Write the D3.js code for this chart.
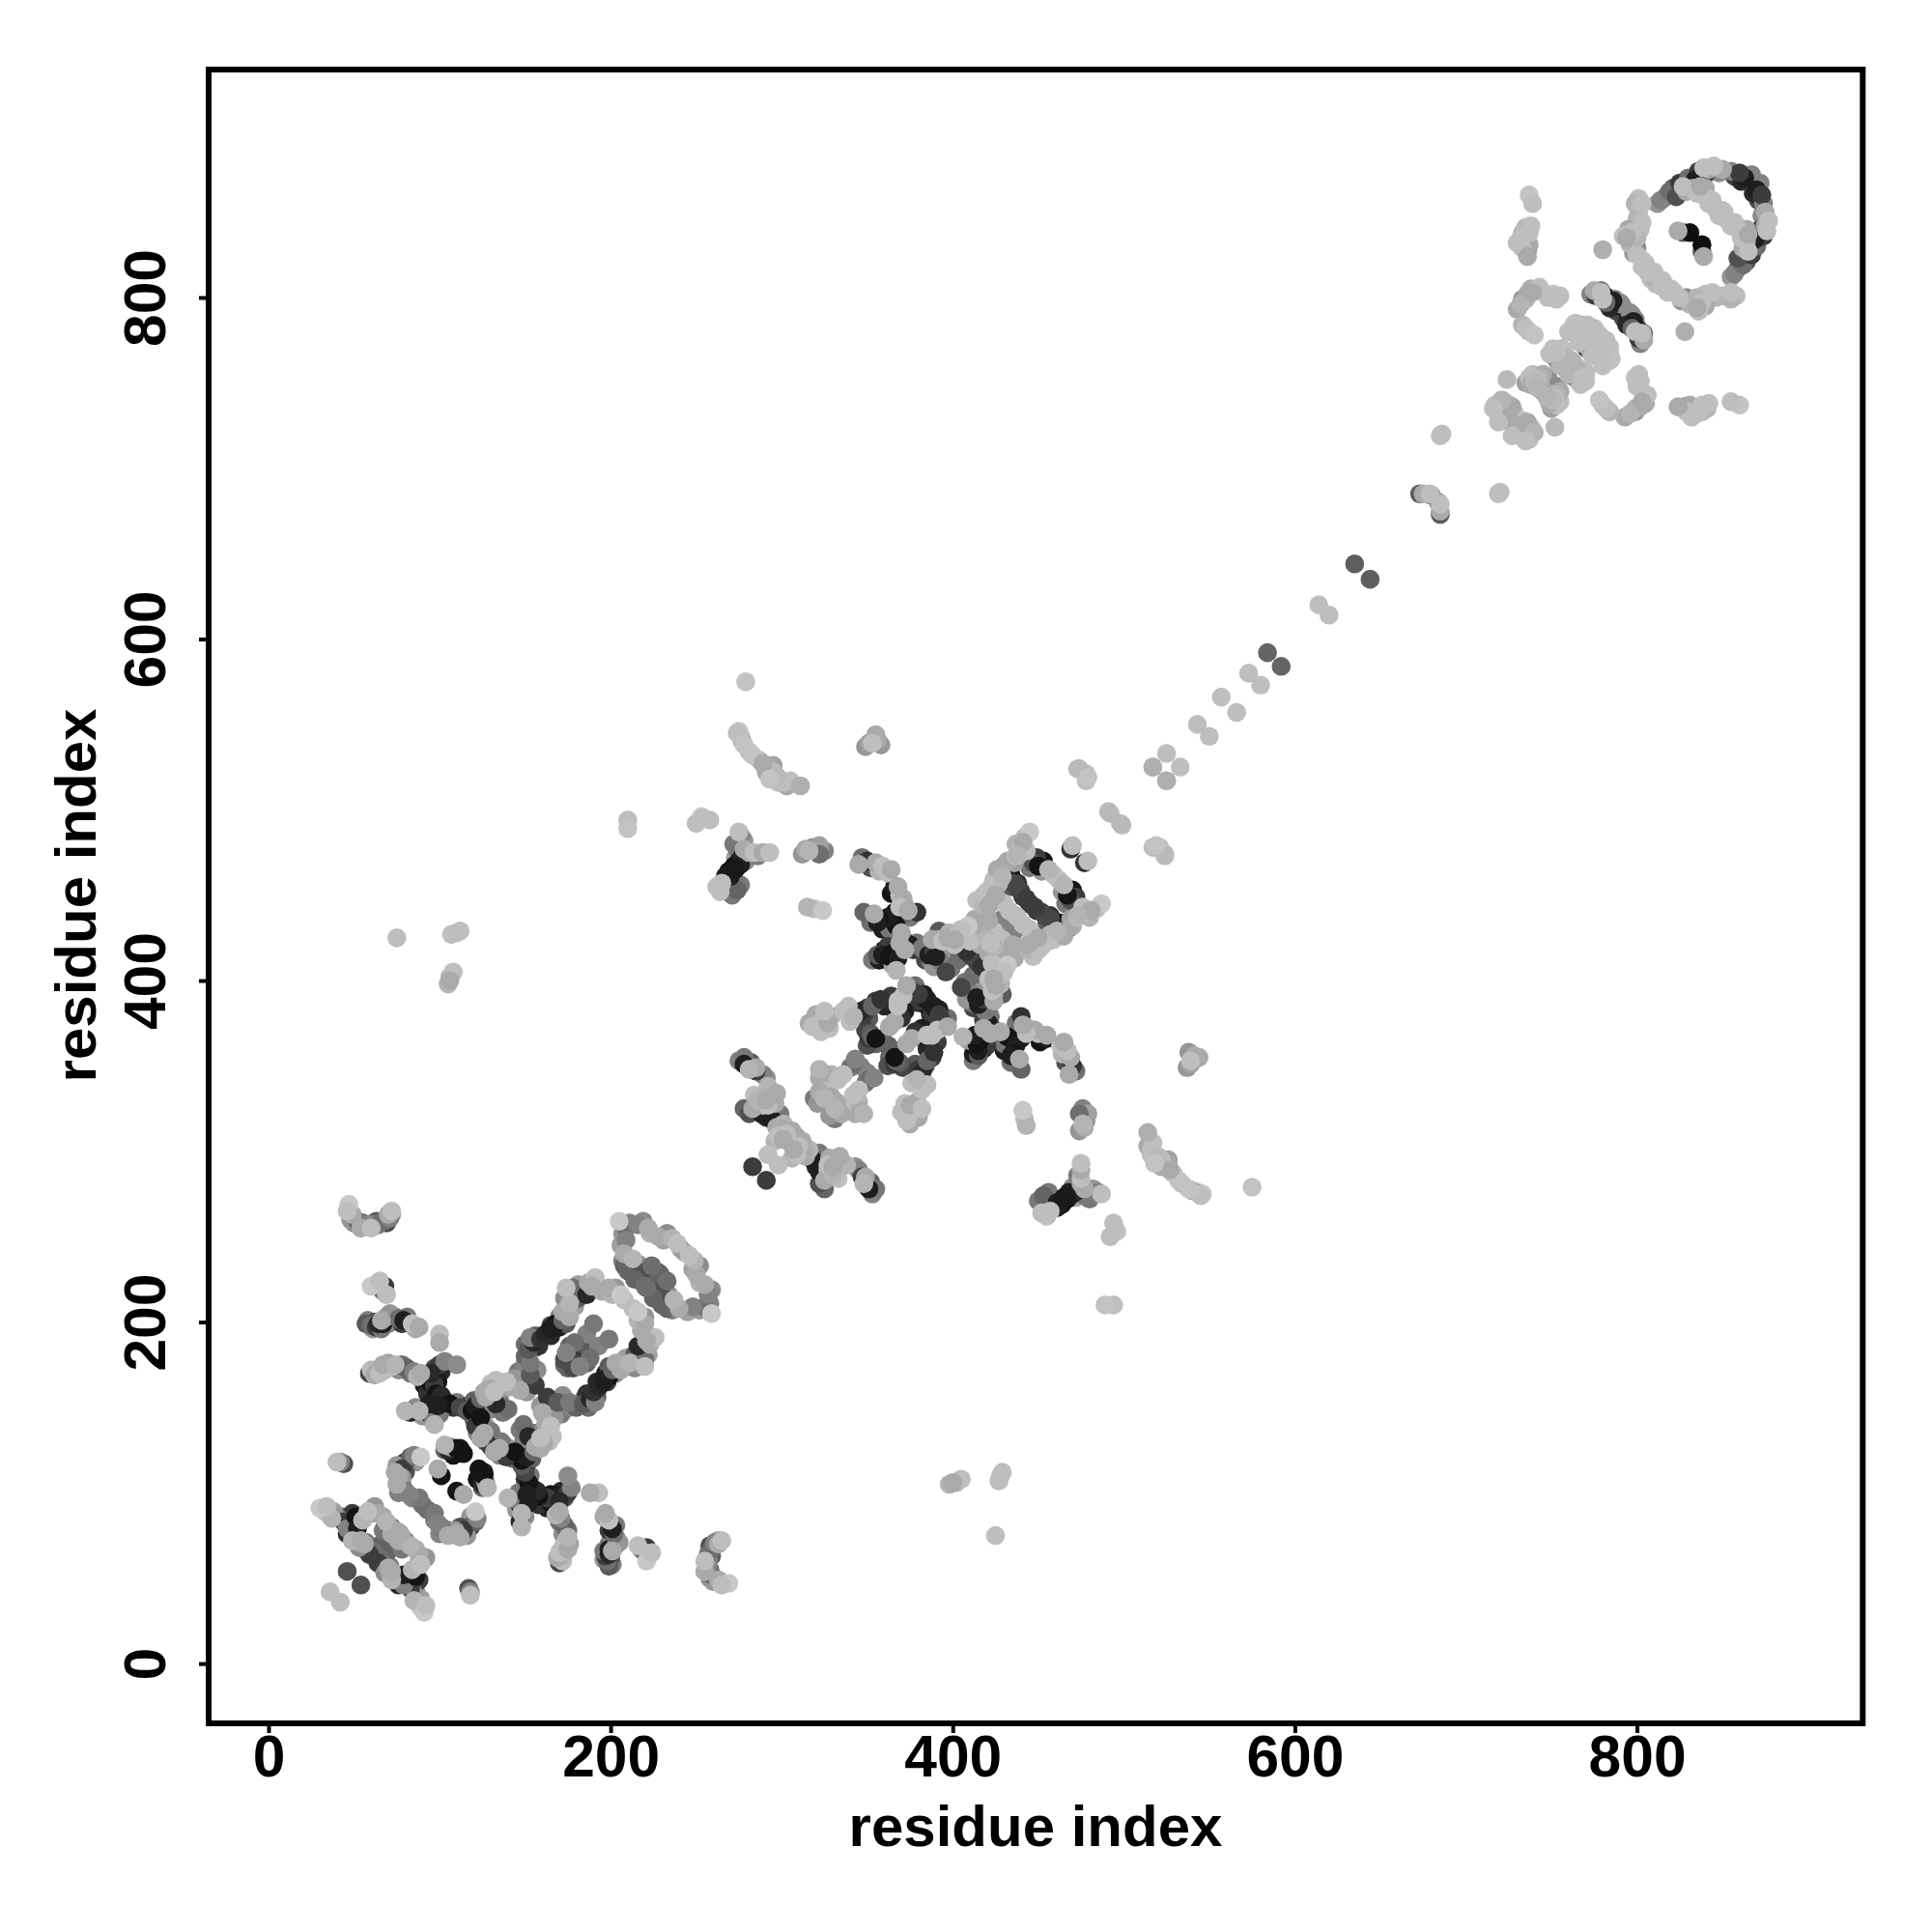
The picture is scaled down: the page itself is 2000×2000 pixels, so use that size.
<!DOCTYPE html>
<html><head><meta charset="utf-8">
<script src="https://cdn.jsdelivr.net/npm/d3@7/dist/d3.min.js"></script>
<style>html,body{margin:0;background:#fff}svg{display:block}text{font-family:"Liberation Sans",Arial,sans-serif;font-weight:700;fill:#000}</style>
</head><body><svg id="c" width="2000" height="2000"></svg>
<script>
// each row: residue i, residue j, grey level of the contact; the map is symmetric
const tickValues=[0,200,400,600,800];
const axisTitle="residue index";
const domainN1Under=[
[49,263,170],[55,258,90],[59,256,150],[63,259,90],[69,260,60],[70,263,170],[50,258,140],[54,255,170],[69,258,80],[72,263,150],
[63,222,120],[67,218,130],[68,221,60],
[58,201,130],[61,196,150],[62,200,80],[65,198,40],[68,200,100],[70,199,130],[72,201,140],[74,203,130],[78,199,60],[81,203,120],[86,196,170],
[60,172,190],[63,172,180],[68,172,180],[72,174,190],[76,172,140],[79,174,90],[83,170,110],[87,168,180],
[91,163,30],[92,167,70],[95,160,40],[93,158,50],[97,173,80],[101,171,40],[99,165,20],[92,150,40],[98,153,20],[103,154,30],[108,150,50],[110,153,120],[90,145,150],[86,150,140],[94,144,150],[100,146,120],
[117,151,30],[120,154,100],[122,147,40],[125,150,120],[127,156,170],[130,164,190],[134,159,140],[133,166,190],[141,162,170],[146,171,120],[148,165,140],[150,163,160],[147,160,170],[128,152,150],[130,149,130],[135,155,120],[137,147,120],[120,143,100],[123,141,140],[127,139,150],[124,132,170],[130,136,120],[122,135,130],
[150,176,130],[150,180,100],[152,188,90],[156,185,110],[150,187,110],[156,192,100],[158,186,50],[160,192,80],[165,192,40],[165,198,60],[170,197,30],[170,203,130],[174,199,90],[172,206,170],[176,203,170],[176,211,180],[179,209,160],[173,214,140],[177,218,100],[181,214,90],[184,219,130],[187,223,170],[192,221,150],[195,218,170],[201,216,180],[181,222,160],[208,213,190],[203,220,150],[157,172,140],[152,172,130],
[207,252,150],[211,258,130],[219,259,140],[223,252,180],[228,250,170],[236,249,180],[231,248,160],[241,243,160],[206,245,160],[207,236,130],[210,230,100],[216,234,140],[217,226,90],[221,230,150],[222,224,100],[228,229,100],
[176,186,100],[183,185,90],[173,175,100],[181,176,80],[177,180,60],[186,193,130],
[86,118,150],[80,118,60],[75,116,150],[80,112,80],[74,112,170],[76,100,130],[84,97,130],[78,106,130],[90,93,110],
[33,89,190],[37,85,180],[43,86,130],[47,86,30],[49,83,40],[50,75,60],[48,78,150],[52,74,100],[53,71,170],[57,71,120],[59,64,90],[62,62,150],[67,56,160],[65,63,120],[70,56,170],
[53,83,60],[49,88,60],[60,88,170],[64,88,170],[67,86,170],[72,80,120],[74,78,160],[72,76,170],[70,72,120],[66,70,100],
[103,125,100],[108,122,20],[112,126,30],[105,125,40]
];
const domainN1=[
[47,269,200],[46,265,190],[48,260,150],[52,259,110],[66,258,60],[57,257,130],[61,257,140],[64,257,120],[67,259,110],[71,261,130],[60,255,190],[72,265,190],
[60,221,200],[65,224,190],[66,222,50],[65,220,100],[69,216,190],
[57,199,90],[60,198,110],[63,197,60],[66,196,120],[64,199,40],[66,201,170],[67,199,30],[69,203,160],[71,205,150],[76,202,110],[79,201,30],[84,199,190],[88,197,170],
[100,193,190],[100,188,170],
[59,170,70],[62,169,170],[65,170,190],[67,175,170],[70,176,160],[74,175,180],[78,175,110],[81,173,100],[85,171,130],[89,170,170],
[94,165,20],[96,167,15],[98,170,30],[100,175,60],[103,177,130],[110,175,140],[97,163,60],[95,170,40],[98,158,20],[101,157,40],[106,152,20],[112,150,70],[116,148,90],
[95,148,15],[93,147,30],[88,148,180],[83,147,40],[80,148,180],[96,144,120],[97,140,180],[99,151,30],[94,152,30],
[119,148,20],[121,151,30],[124,155,100],[126,159,170],[129,161,170],[135,163,50],[132,159,190],[139,165,190],[144,167,150],[137,161,140],[151,159,150],[156,163,60],[140,149,110],
[121,139,60],[124,144,20],[126,135,170],[127,130,60],[133,152,40],[153,169,90],
[153,176,120],[152,184,90],[155,188,40],[153,191,130],[159,190,50],[162,193,40],[168,199,20],[165,196,30],[172,201,100],[175,207,150],[178,216,130],[174,220,190],[178,220,110],[186,216,40],[191,226,190],[189,221,170],[199,220,170],[206,216,200],
[190,199,120],[179,188,110],[175,178,70],[178,173,75],[174,182,130],
[205,259,200],[209,255,110],[209,248,130],[216,257,130],[222,255,170],[233,252,140],[239,246,190],[208,240,170],[208,233,100],[213,237,180],[218,229,80],[224,233,110],[214,225,100],[220,221,110],
[103,128,180],[106,127,150],[110,126,20],[114,123,20],[101,110,20],[99,114,170],
[89,121,200],[83,121,100],[78,114,60],[78,109,150],[80,101,120],[88,97,120],[82,99,130],[75,105,170],[76,110,170],[85,122,130],
[30,91,200],[34,92,190],[38,89,160],[41,85,150],[44,83,60],[46,76,40],[46,79,130],[49,72,180],[55,69,70],[61,66,110],[64,59,60],[68,53,140],[72,54,170],
[51,86,20],[52,79,30],[55,84,180],[62,92,150],[58,89,190],[69,83,180],[70,80,160],[77,76,170],[74,75,150],[67,78,120],
[46,54,80],[36,42,190],[40,118,190],[44,117,80],[42,118,130]
];
const domainN2Under=[
[276,543,190],[277,540,170],[281,534,190],[287,529,190],[291,522,170],[298,516,190],[303,514,170],[305,517,190],[295,526,160],
[349,537,150],[358,538,150],[354,541,120],
[270,458,30],[268,458,120],[264,452,190],[271,450,120],[276,456,120],[273,472,160],[279,470,140],[272,480,120],[278,482,150],[281,475,170],[286,473,120],
[312,474,150],[318,478,150],[320,476,120],[325,476,130],
[345,468,170],[352,466,80],[357,464,180],[362,463,190],
[369,450,190],[364,451,20],[372,444,170],[375,437,120],[366,440,20],[361,433,30],[359,430,30],[352,434,110],[363,430,120],[370,428,170],[363,436,20],[366,428,120],
[353,412,120],[357,412,30],[362,412,20],[360,418,20],[362,420,60],[372,423,40],[377,418,60],[379,422,120],[385,417,70],[367,406,180],[372,418,170],
[384,412,70],[387,411,120],[391,417,60],[392,424,170],[388,424,170],[395,419,150],[398,428,180],[401,421,190],[406,425,180],[412,430,190],[389,408,150],[393,411,130],[399,407,120],[403,412,110],[411,414,70],[406,421,60],
[414,429,150],[418,428,170],[427,431,160],[420,437,190],[413,436,170],[425,424,190],[416,421,170],[410,423,190],
[414,447,190],[420,452,190],[418,444,180],[424,459,190],[427,457,180],[426,465,170],[430,467,40],[428,462,20],[434,462,30],[432,470,170],[437,473,190],[437,480,180],[443,476,190],[442,484,190],[434,455,90],[438,457,50],[440,452,70],[445,445,60],[421,447,180],[427,447,170],[430,445,190],[433,441,190],[437,438,190],
[445,466,120],[452,464,150],[459,462,190],[453,470,20],[449,472,60],
[322,376,190],[329,379,170],[316,375,170],[320,380,170],[323,370,190],[328,372,190],
[336,382,190],[340,376,190],[345,378,60],[350,384,60],[355,388,60],[351,378,90],[349,371,70],[356,364,90],[362,362,90],[363,355,100],[362,350,80],[351,366,60],[360,385,40],[364,391,60],[371,391,190],[378,397,110],[385,389,40],[380,387,40],[384,386,30],[391,383,20],[388,380,60],[372,382,30],[367,380,30],[366,376,170],[363,373,170],
[340,349,120],[346,350,130],[322,343,170],[328,341,190],[336,345,190],[329,345,180],[322,335,170],[329,332,170],[319,331,120],
[275,353,130],[282,352,90],[285,349,170],[291,343,140],
[284,333,190],[289,327,180],[293,328,180],[283,325,170],[278,325,100],[291,320,40],[293,323,160],[297,314,170],[301,316,180],[306,312,170],[296,306,180],[306,304,160],[309,308,150],[311,304,120],
[292,338,180],[296,328,170],[292,327,190],[299,322,120],[297,334,170]
];
const domainN2=[
[279,575,195],[275,546,200],[274,545,190],[278,538,195],[283,532,195],[292,526,170],[295,522,190],[301,516,190],[311,514,175],[289,527,170],[297,520,185],[293,518,195],
[351,539,160],[356,541,170],[355,544,170],[353,539,190],[253,496,200],[258,494,190],[250,492,190],[254,495,190],
[275,487,190],[276,485,130],[274,477,120],[278,477,170],[284,475,190],[289,475,170],[293,475,190],
[269,464,20],[272,467,20],[275,470,25],[277,473,40],[267,461,30],[274,453,100],[262,455,190],[265,457,190],[270,461,30],[276,468,30],[273,465,25],
[314,477,170],[322,479,160],[322,474,110],[316,476,180],[319,442,190],[315,443,180],[324,441,200],
[347,472,110],[350,470,50],[355,469,170],[359,467,190],[364,465,170],
[368,455,170],[366,455,30],[371,448,170],[369,443,190],[379,440,50],[374,441,170],[371,439,100],[365,435,20],[367,432,20],[362,437,30],[357,436,20],[354,439,170],[348,440,100],[356,434,30],
[356,415,90],[359,415,30],[365,416,20],[365,409,160],[369,422,170],[363,414,20],[375,421,30],[382,419,120],[368,413,30],
[386,415,30],[389,418,60],[392,429,90],[394,423,190],[390,414,30],[397,425,170],[403,427,190],[409,432,200],[405,430,190],[401,424,170],
[408,417,50],[396,405,70],[417,432,130],[429,436,130],[424,429,190],[420,424,180],[422,422,190],[421,435,170],
[418,450,190],[423,456,190],[421,444,170],[429,461,180],[433,465,20],[431,463,30],[436,469,160],[440,478,190],[445,487,200],[441,481,170],[438,473,180],[436,457,70],[441,449,60],[438,454,70],[443,448,60],[425,450,170],
[447,469,80],[450,467,20],[456,465,180],[470,479,190],[469,477,50],
[473,524,190],[478,521,190],[478,518,190],[491,499,190],[498,492,185],[517,478,190],[524,474,185],[519,479,195],[517,525,185],[525,533,190],[525,517,175],
[325,378,170],[321,374,190],[318,373,190],[327,375,170],[325,382,190],
[339,385,190],[342,379,180],[348,380,60],[346,382,40],[353,385,100],[358,389,50],[352,369,90],[359,366,100],[366,359,100],[367,353,100],[355,366,20],
[373,397,170],[368,388,190],[376,394,70],[383,392,30],[389,384,30],[392,380,60],[370,378,50],[368,385,190],
[342,351,110],[343,354,130],[324,346,170],[322,348,180],[333,342,190],[325,331,180],[321,328,150],
[278,355,120],[278,351,30],[281,348,180],[289,345,130],[285,347,60],
[286,330,180],[291,330,170],[281,322,80],[288,322,30],[295,318,30],[300,313,170],[303,310,190],[298,309,190],[292,298,190],[283,291,60],[301,307,170],[303,312,160]
];
const linker=[
[75,425,190],[107,427,190],[110,428,190],[112,429,190],[105,398,180],[106,402,180],[108,405,190],[106,400,170],[210,494,190],[210,489,195],
[614,620,190],[635,644,95],[584,592,100],[573,580,190],[557,566,190],[543,550,190],
[673,685,90],[675,685,170],[679,685,190],[680,684,140],[685,719,190],[686,720,190]
];
const domainN3Under=[
[735,841,180],[730,832,190],[737,831,170],[733,829,190],
[735,799,180],[738,805,170],[743,806,190],[730,793,170],[748,800,190],[753,799,190],
[737,780,190],[733,784,180],
[760,780,190],[765,778,190],[771,784,190],[778,778,190],[773,776,190],[780,770,190],[784,768,190],[785,764,190],[770,771,60],[768,773,170],[778,766,190],
[749,767,190],[755,763,120],[756,770,170],[758,761,130],[763,762,180],[770,756,190],[765,752,150],[760,755,180],
[773,802,130],[779,804,120],[782,798,60],[787,799,120],[787,794,110],[792,794,150],[792,788,70],[795,788,30],[800,783,140],[799,780,190],[796,785,60],
[735,750,160],[739,755,190],[743,750,170],[744,747,190],[749,747,130],[755,745,170],[749,738,185],[753,743,180],[745,745,170],
[720,736,190],[724,738,190],[722,731,180],[724,728,170],[728,733,190],[718,733,190],[730,725,170],
[801,850,190],[800,846,180],[795,840,170],[792,836,190],[796,831,180],[798,826,150],[800,825,190],[803,818,190],[808,811,190],[809,815,180],[812,809,180],[815,810,190],[820,805,190],
[801,858,190],[799,855,180],[802,840,190],[800,835,180],
[812,855,150],[817,859,120],[821,864,90],[822,862,60],[828,868,60],[832,867,50],[838,870,50],[842,875,170],[839,876,190],[848,873,140],[829,862,170],[833,864,170],[835,861,190],[842,855,190],[844,857,190],[848,848,190],[851,850,190],[840,864,170],[857,871,70],[861,868,40],[866,867,50],[867,872,130],[850,875,170]
];
const domainN3=[
[737,860,195],[739,855,190],[738,842,190],[733,838,185],[732,835,190],[736,828,100],[736,824,170],[737,838,190],
[780,828,175],[741,804,190],[736,802,170],[733,799,150],[732,796,180],[739,803,170],[751,802,190],[755,801,190],
[735,782,190],[740,778,195],
[763,784,195],[768,780,190],[775,782,190],[781,775,190],[776,769,190],[782,763,190],[766,774,190],[774,770,150],
[751,770,190],[753,766,90],[758,767,190],[761,759,130],[765,758,180],[768,753,190],[762,754,120],
[775,804,170],[778,801,110],[781,801,30],[790,797,140],[776,801,60],[784,798,60],[796,791,140],[794,784,40],[798,786,30],[803,779,190],[797,782,100],
[724,752,185],[737,753,190],[741,752,190],[747,753,130],[753,748,140],[738,749,170],[751,740,185],[747,742,180],
[717,737,190],[727,736,170],[719,727,190],[721,740,180],[716,735,190],
[803,855,190],[803,844,190],[797,838,190],[794,835,170],[800,829,140],[803,822,190],[806,815,190],
[814,857,130],[819,862,110],[825,867,60],[830,870,110],[836,874,60],[845,877,190],[840,872,70],[827,865,190],[823,859,80],[834,869,30],
[824,839,170],[827,838,90],[831,838,15],[840,859,190],[846,852,190],[837,865,170],[855,874,130],[863,870,30],[860,873,60]
];
const allRows=[...domainN1Under,...domainN2Under,...domainN3Under,...domainN1,...domainN2,...linker,...domainN3];

const svg=d3.select("#c");
const x=d3.scaleLinear().domain([-35,932]).range([216,1928.3]);
const y=d3.scaleLinear().domain([-35,933.5]).range([1784,72]);
const marks=[];
allRows.forEach(([i,j,g])=>{marks.push({a:i,b:j,g});marks.push({a:j,b:i,g});});
const ordered=[...marks.filter(d=>d.g<170),...marks.filter(d=>d.g>=170)];
svg.append("g").selectAll("circle").data(ordered).join("circle")
 .attr("cx",d=>x(d.a)).attr("cy",d=>y(d.b)).attr("r",9.8)
 .attr("fill",d=>d3.rgb(d.g,d.g,d.g));
const ax=svg.append("g").attr("transform","translate(0,1784)").call(d3.axisBottom(x).tickValues(tickValues).tickSize(10).tickPadding(14).tickFormat(d3.format("d")));
const ay=svg.append("g").attr("transform","translate(216,0)").call(d3.axisLeft(y).tickValues(tickValues).tickSize(10).tickFormat(d3.format("d")));
[ax,ay].forEach(a=>{a.select(".domain").remove();a.selectAll("line").attr("stroke","#000").attr("stroke-width",4);a.selectAll("text").style("font-size","60.5px").attr("fill","#000");});
ax.selectAll("text").attr("dy",null).attr("y",null).attr("transform","translate(0,55)");
ay.selectAll("text").attr("x",null).attr("dy",null).attr("text-anchor","middle").attr("transform","translate(-45,0) rotate(-90)");
svg.append("rect").attr("x",x.range()[0]).attr("y",y.range()[1]).attr("width",x.range()[1]-x.range()[0]).attr("height",y.range()[0]-y.range()[1]).attr("fill","none").attr("stroke","#000").attr("stroke-width",6);
svg.append("text").attr("x",1072).attr("y",1911).attr("text-anchor","middle").style("font-size","60px").text(axisTitle);
svg.append("text").attr("transform","translate(99,927) rotate(-90)").attr("text-anchor","middle").style("font-size","60px").text(axisTitle);
</script></body></html>
